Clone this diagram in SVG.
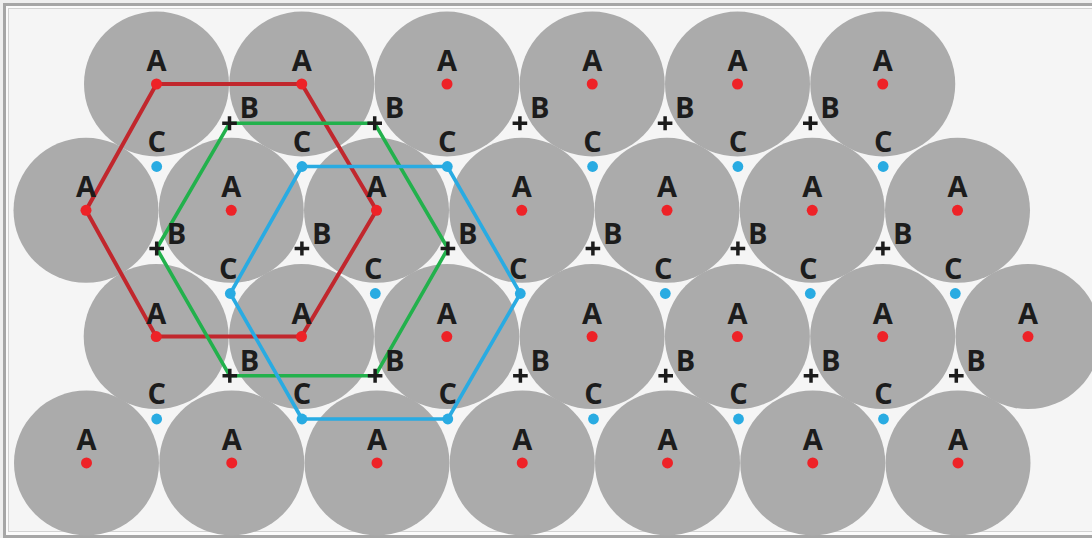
<svg xmlns="http://www.w3.org/2000/svg" xmlns:xlink="http://www.w3.org/1999/xlink" width="1092" height="538" viewBox="0 0 1092 538">
<style>
.ball{fill:#ababab}
.adot{fill:#ee2227}
.cdot{fill:#29abe2}
.lbl{font-family:"Open Sans","DejaVu Sans",sans-serif;font-weight:700;font-size:29px;fill:#1c1c1c}
.mid{text-anchor:middle}
.plus{stroke:#1c1c1c;stroke-width:3.5;fill:none}
.hex{fill:none;stroke-linejoin:round}
</style>
<defs>
<path id="plus" class="plus" d="M-7.3,0H7.3M0,-7V7"/>
</defs>
<rect x="0" y="0" width="1092" height="538" fill="#efefef"/>
<rect x="4.5" y="4.5" width="1100" height="532" fill="#fbfbfb" stroke="#a6a6a6" stroke-width="3"/>
<rect x="8.5" y="8.5" width="1100" height="523" fill="#f5f5f5" stroke="#d2d2d2" stroke-width="1"/>

<g id="row1">
<g id="a1-1"><circle class="ball" cx="156.5" cy="84" r="72.5"/></g>
<g id="a1-2"><circle class="ball" cx="301.75" cy="84" r="72.5"/></g>
<g id="a1-3"><circle class="ball" cx="447" cy="84" r="72.5"/></g>
<g id="a1-4"><circle class="ball" cx="592.25" cy="84" r="72.5"/></g>
<g id="a1-5"><circle class="ball" cx="737.5" cy="84" r="72.5"/></g>
<g id="a1-6"><circle class="ball" cx="882.75" cy="84" r="72.5"/></g>
</g>
<g id="row2">
<g id="a2-1"><circle class="ball" cx="86" cy="210.3" r="72.5"/></g>
<g id="a2-2"><circle class="ball" cx="231.25" cy="210.3" r="72.5"/></g>
<g id="a2-3"><circle class="ball" cx="376.5" cy="210.3" r="72.5"/></g>
<g id="a2-4"><circle class="ball" cx="521.75" cy="210.3" r="72.5"/></g>
<g id="a2-5"><circle class="ball" cx="667" cy="210.3" r="72.5"/></g>
<g id="a2-6"><circle class="ball" cx="812.25" cy="210.3" r="72.5"/></g>
<g id="a2-7"><circle class="ball" cx="957.5" cy="210.3" r="72.5"/></g>
</g>
<g id="row3">
<g id="a3-1"><circle class="ball" cx="156.2" cy="336.6" r="72.5"/></g>
<g id="a3-2"><circle class="ball" cx="301.5" cy="336.6" r="72.5"/></g>
<g id="a3-3"><circle class="ball" cx="446.8" cy="336.6" r="72.5"/></g>
<g id="a3-4"><circle class="ball" cx="592.1" cy="336.6" r="72.5"/></g>
<g id="a3-5"><circle class="ball" cx="737.4" cy="336.6" r="72.5"/></g>
<g id="a3-6"><circle class="ball" cx="882.7" cy="336.6" r="72.5"/></g>
<g id="a3-7"><circle class="ball" cx="1028" cy="336.6" r="72.5"/></g>
</g>
<g id="row4">
<g id="a4-1"><circle class="ball" cx="86.5" cy="462.9" r="72.5"/></g>
<g id="a4-2"><circle class="ball" cx="231.75" cy="462.9" r="72.5"/></g>
<g id="a4-3"><circle class="ball" cx="377" cy="462.9" r="72.5"/></g>
<g id="a4-4"><circle class="ball" cx="522.25" cy="462.9" r="72.5"/></g>
<g id="a4-5"><circle class="ball" cx="667.5" cy="462.9" r="72.5"/></g>
<g id="a4-6"><circle class="ball" cx="812.75" cy="462.9" r="72.5"/></g>
<g id="a4-7"><circle class="ball" cx="958" cy="462.9" r="72.5"/></g>
</g>

<g id="connectors">
<polygon class="hex" stroke="#c1272d" stroke-width="4" points="156.5,84 301.75,84 376.5,210.3 301.5,336.6 156.2,336.6 86,210.3"/>
<polygon class="hex" stroke="#22b14c" stroke-width="3.6" points="229.5,123.3 374.7,123.3 447.9,248.5 375.1,375.8 229.8,375.8 156.7,248.5"/>
<polygon class="hex" stroke="#29abe2" stroke-width="3.6" points="302,166.5 447.3,166.5 520.3,293.5 447.8,419 302,419 230.3,293.5"/>
</g>

<g id="a-sites">
<g><circle class="adot" cx="156.5" cy="84" r="5.5"/><text class="lbl mid" x="156.5" y="71">A</text></g>
<g><circle class="adot" cx="301.75" cy="84" r="5.5"/><text class="lbl mid" x="301.75" y="71">A</text></g>
<g><circle class="adot" cx="447" cy="84" r="5.5"/><text class="lbl mid" x="447" y="71">A</text></g>
<g><circle class="adot" cx="592.25" cy="84" r="5.5"/><text class="lbl mid" x="592.25" y="71">A</text></g>
<g><circle class="adot" cx="737.5" cy="84" r="5.5"/><text class="lbl mid" x="737.5" y="71">A</text></g>
<g><circle class="adot" cx="882.75" cy="84" r="5.5"/><text class="lbl mid" x="882.75" y="71">A</text></g>

<g><circle class="adot" cx="86" cy="210.3" r="5.5"/><text class="lbl mid" x="86" y="197.3">A</text></g>
<g><circle class="adot" cx="231.25" cy="210.3" r="5.5"/><text class="lbl mid" x="231.25" y="197.3">A</text></g>
<g><circle class="adot" cx="376.5" cy="210.3" r="5.5"/><text class="lbl mid" x="376.5" y="197.3">A</text></g>
<g><circle class="adot" cx="521.75" cy="210.3" r="5.5"/><text class="lbl mid" x="521.75" y="197.3">A</text></g>
<g><circle class="adot" cx="667" cy="210.3" r="5.5"/><text class="lbl mid" x="667" y="197.3">A</text></g>
<g><circle class="adot" cx="812.25" cy="210.3" r="5.5"/><text class="lbl mid" x="812.25" y="197.3">A</text></g>
<g><circle class="adot" cx="957.5" cy="210.3" r="5.5"/><text class="lbl mid" x="957.5" y="197.3">A</text></g>

<g><circle class="adot" cx="156.2" cy="336.6" r="5.5"/><text class="lbl mid" x="156.2" y="324">A</text></g>
<g><circle class="adot" cx="301.5" cy="336.6" r="5.5"/><text class="lbl mid" x="301.5" y="324">A</text></g>
<g><circle class="adot" cx="446.8" cy="336.6" r="5.5"/><text class="lbl mid" x="446.8" y="324">A</text></g>
<g><circle class="adot" cx="592.1" cy="336.6" r="5.5"/><text class="lbl mid" x="592.1" y="324">A</text></g>
<g><circle class="adot" cx="737.4" cy="336.6" r="5.5"/><text class="lbl mid" x="737.4" y="324">A</text></g>
<g><circle class="adot" cx="882.7" cy="336.6" r="5.5"/><text class="lbl mid" x="882.7" y="324">A</text></g>
<g><circle class="adot" cx="1028" cy="336.6" r="5.5"/><text class="lbl mid" x="1028" y="324">A</text></g>

<g><circle class="adot" cx="86.5" cy="462.9" r="5.5"/><text class="lbl mid" x="86.5" y="450">A</text></g>
<g><circle class="adot" cx="231.75" cy="462.9" r="5.5"/><text class="lbl mid" x="231.75" y="450">A</text></g>
<g><circle class="adot" cx="377" cy="462.9" r="5.5"/><text class="lbl mid" x="377" y="450">A</text></g>
<g><circle class="adot" cx="522.25" cy="462.9" r="5.5"/><text class="lbl mid" x="522.25" y="450">A</text></g>
<g><circle class="adot" cx="667.5" cy="462.9" r="5.5"/><text class="lbl mid" x="667.5" y="450">A</text></g>
<g><circle class="adot" cx="812.75" cy="462.9" r="5.5"/><text class="lbl mid" x="812.75" y="450">A</text></g>
<g><circle class="adot" cx="958" cy="462.9" r="5.5"/><text class="lbl mid" x="958" y="450">A</text></g>
</g>

<g id="b-sites">
<g id="b1-1"><use xlink:href="#plus" x="229.5" y="123.3"/><text class="lbl" x="239.5" y="118.3">B</text></g>
<g id="b1-2"><use xlink:href="#plus" x="374.7" y="123.3"/><text class="lbl" x="384.7" y="118.3">B</text></g>
<g id="b1-3"><use xlink:href="#plus" x="519.9" y="123.3"/><text class="lbl" x="529.9" y="118.3">B</text></g>
<g id="b1-4"><use xlink:href="#plus" x="665.1" y="123.3"/><text class="lbl" x="675.1" y="118.3">B</text></g>
<g id="b1-5"><use xlink:href="#plus" x="810.3" y="123.3"/><text class="lbl" x="820.3" y="118.3">B</text></g>

<g id="b2-1"><use xlink:href="#plus" x="156.7" y="248.5"/><text class="lbl" x="166.7" y="243.5">B</text></g>
<g id="b2-2"><use xlink:href="#plus" x="301.9" y="248.5"/><text class="lbl" x="311.9" y="243.5">B</text></g>
<g id="b2-3"><use xlink:href="#plus" x="447.9" y="248.5"/><text class="lbl" x="457.9" y="243.5">B</text></g>
<g id="b2-4"><use xlink:href="#plus" x="592.9" y="248.5"/><text class="lbl" x="602.9" y="243.5">B</text></g>
<g id="b2-5"><use xlink:href="#plus" x="737.9" y="248.5"/><text class="lbl" x="747.9" y="243.5">B</text></g>
<g id="b2-6"><use xlink:href="#plus" x="882.9" y="248.5"/><text class="lbl" x="892.9" y="243.5">B</text></g>

<g id="b3-1"><use xlink:href="#plus" x="229.8" y="375.8"/><text class="lbl" x="239.8" y="370.8">B</text></g>
<g id="b3-2"><use xlink:href="#plus" x="375.1" y="375.8"/><text class="lbl" x="385.1" y="370.8">B</text></g>
<g id="b3-3"><use xlink:href="#plus" x="520.4" y="375.8"/><text class="lbl" x="530.4" y="370.8">B</text></g>
<g id="b3-4"><use xlink:href="#plus" x="665.7" y="375.8"/><text class="lbl" x="675.7" y="370.8">B</text></g>
<g id="b3-5"><use xlink:href="#plus" x="811" y="375.8"/><text class="lbl" x="821" y="370.8">B</text></g>
<g id="b3-6"><use xlink:href="#plus" x="956.3" y="375.8"/><text class="lbl" x="966.3" y="370.8">B</text></g>
</g>

<g id="c-sites">
<g id="c1-1"><circle class="cdot" cx="156.7" cy="166.5" r="5.4"/><text class="lbl mid" x="156.7" y="151.5">C</text></g>
<g id="c1-2"><circle class="cdot" cx="302" cy="166.5" r="5.4"/><text class="lbl mid" x="302" y="151.5">C</text></g>
<g id="c1-3"><circle class="cdot" cx="447.3" cy="166.5" r="5.4"/><text class="lbl mid" x="447.3" y="151.5">C</text></g>
<g id="c1-4"><circle class="cdot" cx="592.6" cy="166.5" r="5.4"/><text class="lbl mid" x="592.6" y="151.5">C</text></g>
<g id="c1-5"><circle class="cdot" cx="737.9" cy="166.5" r="5.4"/><text class="lbl mid" x="737.9" y="151.5">C</text></g>
<g id="c1-6"><circle class="cdot" cx="883.2" cy="166.5" r="5.4"/><text class="lbl mid" x="883.2" y="151.5">C</text></g>

<g id="c2-1"><circle class="cdot" cx="230.3" cy="293.5" r="5.4"/><text class="lbl mid" x="228.3" y="278.5">C</text></g>
<g id="c2-2"><circle class="cdot" cx="375.3" cy="293.5" r="5.4"/><text class="lbl mid" x="373.3" y="278.5">C</text></g>
<g id="c2-3"><circle class="cdot" cx="520.3" cy="293.5" r="5.4"/><text class="lbl mid" x="518.3" y="278.5">C</text></g>
<g id="c2-4"><circle class="cdot" cx="665.3" cy="293.5" r="5.4"/><text class="lbl mid" x="663.3" y="278.5">C</text></g>
<g id="c2-5"><circle class="cdot" cx="810.3" cy="293.5" r="5.4"/><text class="lbl mid" x="808.3" y="278.5">C</text></g>
<g id="c2-6"><circle class="cdot" cx="955.3" cy="293.5" r="5.4"/><text class="lbl mid" x="953.3" y="278.5">C</text></g>

<g id="c3-1"><circle class="cdot" cx="156.7" cy="419" r="5.4"/><text class="lbl mid" x="156.7" y="404">C</text></g>
<g id="c3-2"><circle class="cdot" cx="302" cy="419" r="5.4"/><text class="lbl mid" x="302" y="404">C</text></g>
<g id="c3-3"><circle class="cdot" cx="447.8" cy="419" r="5.4"/><text class="lbl mid" x="447.8" y="404">C</text></g>
<g id="c3-4"><circle class="cdot" cx="593.5" cy="419" r="5.4"/><text class="lbl mid" x="593.5" y="404">C</text></g>
<g id="c3-5"><circle class="cdot" cx="738.5" cy="419" r="5.4"/><text class="lbl mid" x="738.5" y="404">C</text></g>
<g id="c3-6"><circle class="cdot" cx="883.5" cy="419" r="5.4"/><text class="lbl mid" x="883.5" y="404">C</text></g>
</g>
</svg>
